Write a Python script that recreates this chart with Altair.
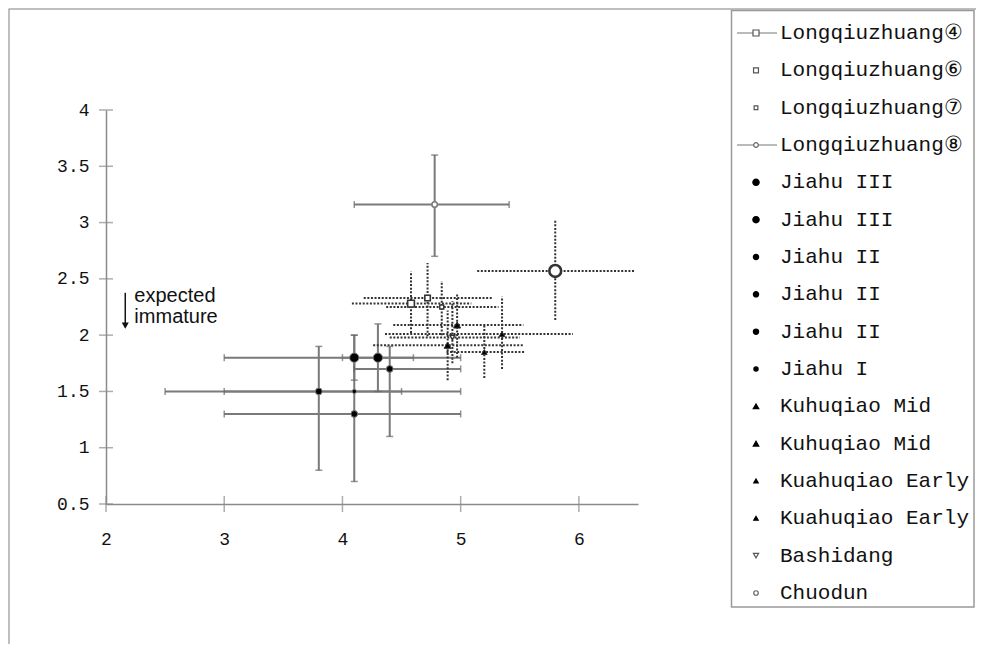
import altair as alt
import pandas as pd

# ---------------- data ----------------
keys = ["L4", "L6", "L7", "L8", "J3a", "J3b", "J2a", "J2b", "J2c", "J1",
        "KMa", "KMb", "KEa", "KEb", "B", "C"]
labels = ["Longqiuzhuang④", "Longqiuzhuang⑥", "Longqiuzhuang⑦", "Longqiuzhuang⑧",
          "Jiahu III", "Jiahu III", "Jiahu II", "Jiahu II", "Jiahu II", "Jiahu I",
          "Kuhuqiao Mid", "Kuhuqiao Mid", "Kuahuqiao Early", "Kuahuqiao Early",
          "Bashidang", "Chuodun"]
x_mean = [4.58, 4.72, 4.84, 4.78, 4.10, 4.30, 4.40, 3.80, 4.10, 4.10,
          4.97, 4.89, 5.35, 5.20, 4.93, 5.80]
y_mean = [2.28, 2.33, 2.25, 3.16, 1.80, 1.80, 1.70, 1.50, 1.30, 1.50,
          2.09, 1.91, 2.01, 1.85, 1.98, 2.57]
x_lo = [4.08, 4.18, 4.37, 4.10, 3.0, 4.0, 4.1, 2.5, 3.0, 3.0,
        4.43, 4.26, 4.36, 4.88, 4.40, 5.14]
x_hi = [5.09, 5.27, 5.32, 5.41, 5.0, 4.6, 5.0, 5.0, 5.0, 4.5,
        5.53, 5.53, 5.95, 5.55, 5.50, 6.48]
y_lo = [2.02, 1.99, 2.00, 2.70, 1.60, 1.50, 1.10, 0.80, 0.70, 1.50,
        1.80, 1.60, 1.70, 1.62, 1.75, 2.135]
y_hi = [2.565, 2.64, 2.48, 3.60, 2.00, 2.10, 1.90, 1.90, 2.00, 1.50,
        2.37, 2.22, 2.34, 2.09, 2.30, 3.02]

x_ticks = [2, 3, 4, 5, 6]
y_ticks = [0.5, 1, 1.5, 2, 2.5, 3, 3.5, 4]

note_lines = ["expected", "immature"]
note_x = [2.24, 2.24]
note_y = [2.296, 2.109]
arrow_x = [2.163]
arrow_top = [2.376]
arrow_bottom = [2.10]
arrow_head = [2.085]

# ---------------- styles ----------------
solid = [False, False, False, True, True, True, True, True, True, True,
         False, False, False, False, False, False]
line_stroke = ["#7a7a7a" if s else "#333" for s in solid]
line_dash = [[1, 0] if s else [2, 1.6] for s in solid]
shape_plot = ["square", "square", "square", "circle",
              "circle", "circle", "circle", "circle", "circle", "circle",
              "triangle-up", "triangle-up", "triangle-up", "triangle-up",
              "triangle-down", "circle"]
size_plot = [45, 30, 16, 30, 85, 85, 45, 45, 45, 18, 50, 50, 32, 32, 25, 140]
fill_plot = ["white", "white", "white", "white", "black", "black", "black", "black",
             "black", "black", "black", "black", "black", "black", "white", "white"]
stroke_plot = ["#555", "#555", "#555", "#666", "black", "black", "black", "black",
               "black", "black", "black", "black", "black", "black", "#555", "#666"]
stroke_w_plot = [1.6, 1.6, 1.4, 1.6, 1, 1, 1, 1, 1, 1, 1, 1, 1, 1, 1.4, 2.6]
size_leg = [36, 24, 14, 22, 40, 40, 28, 28, 28, 18, 30, 30, 20, 20, 26, 20]
leg_line = [True, False, False, True] + [False] * 12

GRAY = "#8a8a8a"
MONO = "Liberation Mono"

# ---------------- tables ----------------
seg_rows = []
for i, k in enumerate(keys):
    seg_rows.append(dict(key=k, x1=x_lo[i], x2=x_hi[i], y1=y_mean[i], y2=y_mean[i]))
    seg_rows.append(dict(key=k, x1=x_mean[i], x2=x_mean[i], y1=y_lo[i], y2=y_hi[i]))
segs = pd.DataFrame(seg_rows)

vcap_rows, hcap_rows = [], []
for i, k in enumerate(keys):
    if solid[i]:
        vcap_rows += [dict(cx=x_lo[i], cy=y_mean[i]), dict(cx=x_hi[i], cy=y_mean[i])]
        if y_hi[i] > y_lo[i]:
            hcap_rows += [dict(cx=x_mean[i], cy=y_lo[i]), dict(cx=x_mean[i], cy=y_hi[i])]
vcaps = pd.DataFrame(vcap_rows)
hcaps = pd.DataFrame(hcap_rows)

pts = pd.DataFrame(dict(key=keys, x=x_mean, y=y_mean, sz=size_plot, sw=stroke_w_plot))
leg = pd.DataFrame(dict(key=keys, label=labels, row=list(range(len(keys))),
                        line=leg_line, sz=size_leg))

# ---------------- scales / axes ----------------
xs = alt.Scale(domain=[2, 6.5], nice=False, zero=False)
ys = alt.Scale(domain=[0.5, 4], nice=False, zero=False)
xaxis = alt.Axis(values=x_ticks, title=None, grid=False, ticks=False, tickSize=0,
                 domainColor=GRAY, domainWidth=1.5, labelFont=MONO, labelFontSize=18,
                 labelColor="#111", labelPadding=26, labelFlush=False, format="~g")
yaxis = alt.Axis(values=y_ticks, title=None, grid=False, ticks=False, tickSize=0,
                 domainColor=GRAY, domainWidth=1.5, labelFont=MONO, labelFontSize=18,
                 labelColor="#111", labelPadding=17, labelFlush=False, format="~g")


def X(f):
    return alt.X(f, scale=xs, axis=xaxis)


def Y(f):
    return alt.Y(f, scale=ys, axis=yaxis)


# ---------------- main plot ----------------
bars = alt.Chart(segs).mark_rule(strokeWidth=2).encode(
    x=X("x1:Q"), x2="x2:Q", y=Y("y1:Q"), y2="y2:Q",
    stroke=alt.Stroke("key:N", scale=alt.Scale(domain=keys, range=line_stroke), legend=None),
    strokeDash=alt.StrokeDash("key:N", scale=alt.Scale(domain=keys, range=line_dash), legend=None),
)
vcap = alt.Chart(vcaps).mark_tick(orient="vertical", size=7, thickness=1.5, color="#666").encode(
    x=X("cx:Q"), y=Y("cy:Q"))
hcap = alt.Chart(hcaps).mark_tick(orient="horizontal", size=7, thickness=1.5, color="#666").encode(
    x=X("cx:Q"), y=Y("cy:Q"))

points = alt.Chart(pts).mark_point(filled=True, opacity=1).encode(
    x=X("x:Q"), y=Y("y:Q"),
    shape=alt.Shape("key:N", scale=alt.Scale(domain=keys, range=shape_plot), legend=None),
    size=alt.Size("sz:Q", scale=None, legend=None),
    fill=alt.Fill("key:N", scale=alt.Scale(domain=keys, range=fill_plot), legend=None),
    stroke=alt.Stroke("key:N", scale=alt.Scale(domain=keys, range=stroke_plot), legend=None),
    strokeWidth=alt.StrokeWidth("sw:Q", scale=None, legend=None),
)

xt = alt.Chart(pd.DataFrame(dict(v=x_ticks))).mark_tick(
    orient="vertical", size=16, thickness=1.5, color=GRAY).encode(x=X("v:Q"), y=alt.datum(0.5))
yt = alt.Chart(pd.DataFrame(dict(v=y_ticks))).mark_tick(
    orient="horizontal", size=14, thickness=1.5, color=GRAY).encode(y=Y("v:Q"), x=alt.datum(2))

note = alt.Chart(pd.DataFrame(dict(t=note_lines, x=note_x, y=note_y))).mark_text(
    align="left", baseline="alphabetic", font="Liberation Sans", fontSize=20, color="#111").encode(
    x=X("x:Q"), y=Y("y:Q"), text="t:N")
arrow_df = pd.DataFrame(dict(x=arrow_x, y1=arrow_top, y2=arrow_bottom, yh=arrow_head))
arrow = alt.Chart(arrow_df).mark_rule(strokeWidth=1.5, color="#111").encode(
    x=X("x:Q"), y=Y("y1:Q"), y2="y2:Q")
head = alt.Chart(arrow_df).mark_point(shape="triangle-down", filled=True, size=50,
                                      color="#111", opacity=1).encode(x=X("x:Q"), y=Y("yh:Q"))

main = alt.layer(bars, vcap, hcap, xt, yt, points, arrow, head, note)

# ---------------- legend ----------------
ly = alt.Y("row:Q", scale=alt.Scale(domain=[0, 15], range=[-77, 483]), axis=None)
box = alt.Chart(pd.DataFrame(dict(a=[0]))).mark_rect(
    fill="white", stroke="#999", strokeWidth=1.5).encode(
    x=alt.value(625.5), x2=alt.value(868), y=alt.value(-99.5), y2=alt.value(497))
leg_lines = alt.Chart(leg).transform_filter("datum.line").mark_rule(
    strokeWidth=1.2, color="#777").encode(x=alt.value(631), x2=alt.value(671), y=ly)
leg_pts = alt.Chart(leg).mark_point(filled=True, strokeWidth=1.2, opacity=1).encode(
    x=alt.value(650), y=ly,
    shape=alt.Shape("key:N", scale=alt.Scale(domain=keys, range=shape_plot), legend=None),
    size=alt.Size("sz:Q", scale=None, legend=None),
    fill=alt.Fill("key:N", scale=alt.Scale(domain=keys, range=fill_plot), legend=None),
    stroke=alt.Stroke("key:N", scale=alt.Scale(domain=keys, range=stroke_plot), legend=None),
)
leg_txt = alt.Chart(leg).mark_text(align="left", baseline="middle", font=MONO,
                                   fontSize=21, color="#111").encode(
    x=alt.value(674), y=ly, text="label:N")
legend = alt.layer(box, leg_lines, leg_pts, leg_txt)

# ---------------- frame ----------------
frame_top = alt.Chart(pd.DataFrame(dict(a=[0]))).mark_rule(color="#aaa", strokeWidth=1.5).encode(
    x=alt.value(-97.5), x2=alt.value(870), y=alt.value(-101))
frame_left = alt.Chart(pd.DataFrame(dict(a=[0]))).mark_rule(color="#aaa", strokeWidth=1.5).encode(
    x=alt.value(-97), y=alt.value(-101), y2=alt.value(534))

chart = alt.layer(frame_top, frame_left, main, legend).resolve_scale(
    x="independent", y="independent", shape="independent",
    fill="independent", stroke="independent", strokeDash="independent",
).properties(
    width=532, height=394,
    padding={"left": 98, "top": 102, "right": 338, "bottom": 140},
    autosize=alt.AutoSizeParams(type="none"),
    background="white",
).configure_view(strokeWidth=0)

chart.save("out.html", embed_options={"renderer": "svg", "actions": False})
